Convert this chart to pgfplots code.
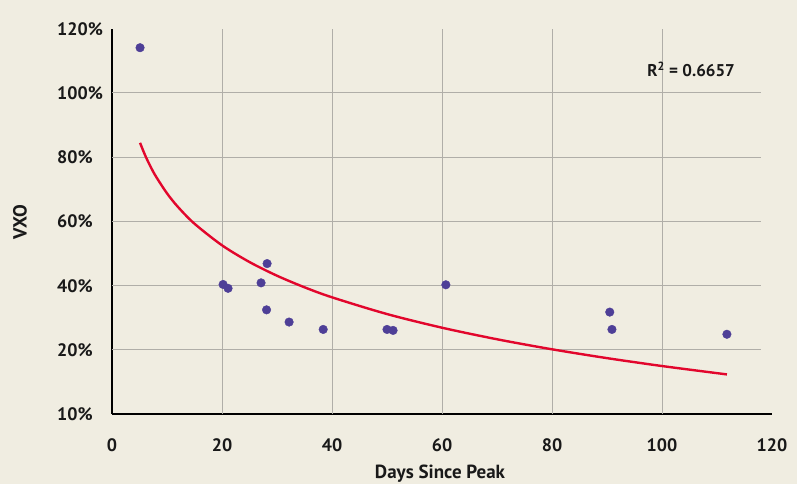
\documentclass[border=0pt]{standalone}
\usepackage{pgfplots}
\pgfplotsset{compat=1.18}
\usepackage{fontspec}
\setmainfont{PT Sans}
\definecolor{bg}{HTML}{F0EDE1}
\definecolor{dot}{HTML}{4E3F97}
\definecolor{fitc}{HTML}{E2062C}
\definecolor{gridc}{HTML}{B0AEA8}
\begin{document}
\begin{tikzpicture}[x=1pt,y=1pt]
\path[fill=bg,use as bounding box] (0,0) rectangle (797,484);
\begin{axis}[
  at={(112pt,69.75pt)}, anchor=south west, scale only axis,
  width=660pt, height=385.5pt,
  xmin=0, xmax=120, ymin=0, ymax=120,
  axis x line*=bottom, axis y line*=left,
  axis line style={line width=2pt,-,black},
  xtick={0,20,...,120}, ytick={0,20,...,120},
  yticklabels={10\%,20\%,40\%,60\%,80\%,100\%,120\%},
  /pgf/number format/assume math mode=true,
  major tick length=0pt,
  ticklabel style={font=\fontsize{18}{20}\selectfont\bfseries, text=black!90},
  yticklabel style={anchor=west, inner sep=0pt, xshift=-55pt},
  xticklabel style={anchor=center, yshift=-31pt},
  xlabel={Days Since Peak},
  ylabel={VXO},
  label style={font=\fontsize{19}{22}\selectfont\bfseries, text=black!90},
  xlabel style={at={(axis description cs:0.497,-0.155)}, anchor=center},
  ylabel style={at={(axis description cs:-0.1394,0.4987)}, anchor=center},
  clip=false,
]
\pgfplotsinvokeforeach{20,40,60,80,100}{
  \draw[gridc, line width=1pt] (axis cs:#1,0) -- (axis cs:#1,120);
  \draw[gridc, line width=1pt] (axis cs:0,#1) -- (axis cs:118,#1);
}
\addplot[fitc, line width=2.4pt, smooth, no marks] coordinates {
(5.1,84.5) (6,80.70) (7,77.10) (8,73.99) (10,68.77) (12,64.52) (15,59.31)
(20,52.59) (25,47.38) (30,43.12) (35,39.52) (40,36.40) (50,31.19) (60,26.94)
(70,23.34) (80,20.22) (90,17.47) (100,15.01) (111.8,12.4)
};
\addplot[only marks, mark=*, mark size=4.3pt, mark options={fill=dot, draw=dot}] coordinates {
(5.1,114.1) (20.2,40.4) (21.1,39.2) (27.1,40.9) (28.2,46.9) (28.1,32.5)
(32.2,28.7) (38.4,26.4) (50.0,26.4) (51.1,26.1) (60.7,40.3) (90.5,31.8)
(90.9,26.4) (111.8,24.9)
};
\node[font=\fontsize{17}{20}\selectfont\bfseries, text=black!90] at (axis cs:105.3,107.4) {R\textsuperscript{2} = 0.6657};
\end{axis}
\end{tikzpicture}
\end{document}
